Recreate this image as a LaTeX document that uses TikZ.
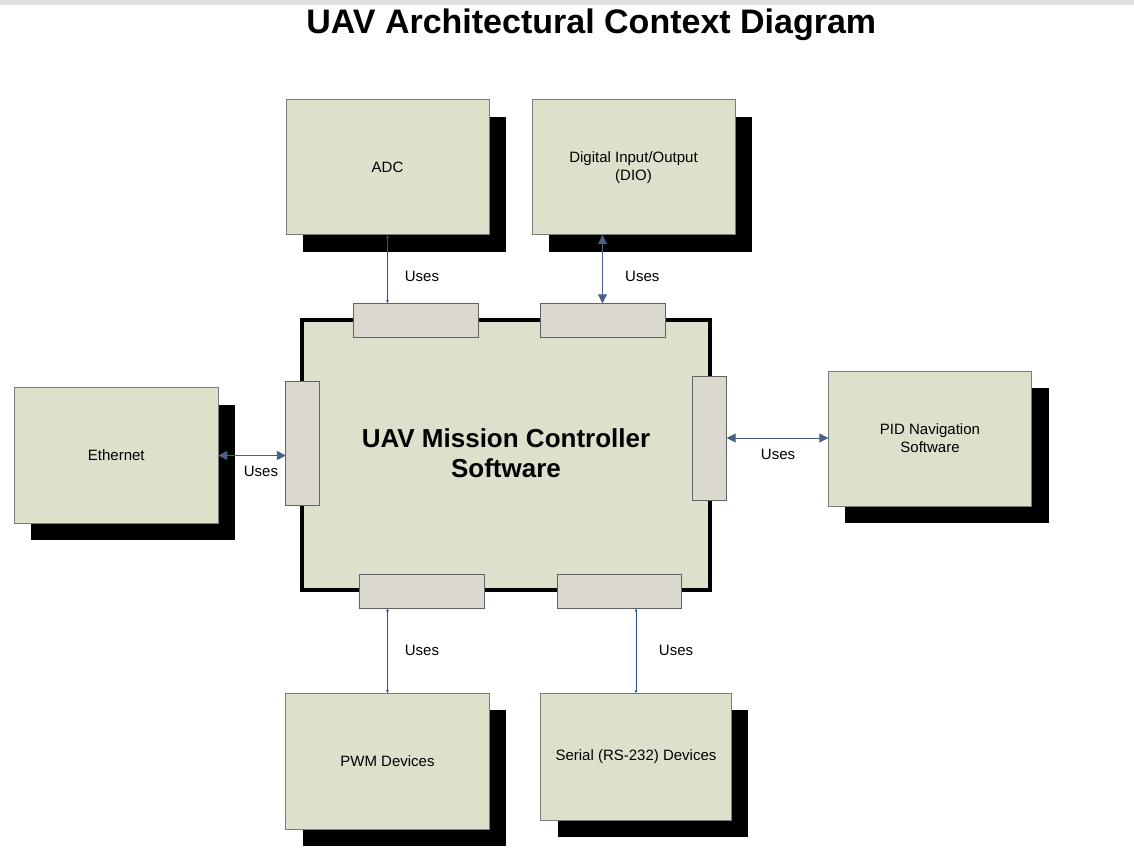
\documentclass[tikz,border=0pt]{standalone}
\usepackage{fontspec}
\setmainfont{Liberation Sans}
\usetikzlibrary{arrows.meta,shadows}

\definecolor{boxfill}{HTML}{DDE1CB}
\definecolor{portfill}{HTML}{DBD8D0}
\definecolor{edgegray}{HTML}{7A7A7A}
\definecolor{linkblue}{HTML}{2F5289}
\definecolor{topbar}{HTML}{E0E0E0}

\tikzset{
  extbox/.style={draw=edgegray, line width=1pt, fill=boxfill, inner sep=0pt,
    outer sep=0pt, align=center, font=\fontsize{15}{18}\selectfont,
    general shadow={fill=black, shadow xshift=17pt, shadow yshift=-17pt}},
  corebox/.style={draw=black, line width=4pt, fill=boxfill, inner sep=0pt,
    outer sep=0pt},
  port/.style={draw=edgegray!80!black, line width=1pt, fill=portfill,
    inner sep=0pt, outer sep=0pt},
  uses/.style={font=\fontsize{15}{18}\selectfont, inner sep=0pt},
  thinlink/.style={draw=linkblue, line width=0.8pt,
    {Latex[length=3pt,width=3pt]}-{Latex[length=3pt,width=3pt]}},
  boldlink/.style={draw=linkblue!70!gray, line width=1pt,
    {Triangle[length=9pt,width=9pt]}-{Triangle[length=9pt,width=9pt]}},
}

\begin{document}
\begin{tikzpicture}[x=1pt, y=-1pt]
  % canvas and top strip
  \path[use as bounding box, fill=white] (0,0) rectangle (1134,866);
  \fill[topbar] (0,0) rectangle (1134,5.5);

  % heading
  \node[anchor=base, inner sep=0pt, font=\bfseries\fontsize{34}{40}\selectfont]
    (title) at (591.3,33.8) {UAV Architectural Context Diagram};

  % central software block
  \node[corebox, minimum width=408pt, minimum height=270pt] (core) at (506,455) {};
  \node[align=center, inner sep=0pt, font=\bfseries\fontsize{26}{30.5}\selectfont]
    (coretext) at (506,453) {UAV Mission Controller\\Software};

  % interface ports on the central block
  \node[port, minimum width=125pt, minimum height=34pt] (pT1) at (415.8,320.3) {};
  \node[port, minimum width=125pt, minimum height=34pt] (pT2) at (602.5,320.3) {};
  \node[port, minimum width=33.5pt, minimum height=124.3pt] (pL) at (302.7,443.8) {};
  \node[port, minimum width=34pt, minimum height=124pt] (pR) at (709.7,438) {};
  \node[port, minimum width=124.7pt, minimum height=34pt] (pB1) at (421.7,591.3) {};
  \node[port, minimum width=124.7pt, minimum height=34pt] (pB2) at (619.5,591.3) {};

  % external components
  \node[extbox, minimum width=203pt, minimum height=135pt] (adc) at (387.5,167.5) {ADC};
  \node[extbox, minimum width=203pt, minimum height=135pt] (dio) at (633.5,167.5)
    {Digital Input/Output\\(DIO)};
  \node[extbox, minimum width=204pt, minimum height=135.7pt] (eth) at (116.3,455.5) {Ethernet};
  \node[extbox, minimum width=203.4pt, minimum height=135pt] (pid) at (930,438.5)
    {PID Navigation\\Software};
  \node[extbox, minimum width=203.6pt, minimum height=135.7pt] (pwm) at (387.5,761.2) {PWM Devices};
  \node[extbox, minimum width=190.6pt, minimum height=126.7pt] (ser) at (636,756.7)
    {Serial (RS-232) Devices};

  % usage links
  \draw[thinlink] (adc.south) -- (adc.south |- pT1.north);
  \draw[boldlink] (pT2.north |- dio.south) -- (pT2.north);
  \draw[boldlink] (eth.east) -- (eth.east -| pL.west);
  \draw[boldlink] (pR.east) -- (pR.east -| pid.west);
  \draw[thinlink] (pwm.north |- pB1.south) -- (pwm.north);
  \draw[thinlink] (ser.north |- pB2.south) -- (ser.north);

  % link labels
  \node[uses] (u1) at (422,276) {Uses};
  \node[uses] (u2) at (642.3,276) {Uses};
  \node[uses] (u3) at (261,471.5) {Uses};
  \node[uses] (u4) at (778,454.5) {Uses};
  \node[uses] (u5) at (422,650.5) {Uses};
  \node[uses] (u6) at (676,650.5) {Uses};
\end{tikzpicture}
\end{document}
